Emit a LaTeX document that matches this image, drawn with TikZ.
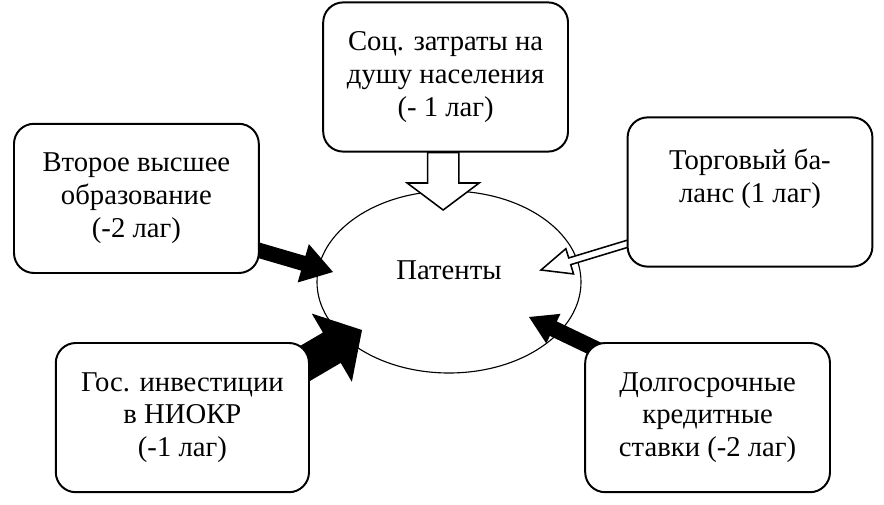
\documentclass[tikz,border=0pt]{standalone}
\usepackage{fontspec}
\setmainfont{Liberation Serif}
\usetikzlibrary{shapes.geometric,calc,backgrounds}

\tikzset{
    box/.style={draw, line width=1.4pt, fill=white, rounded corners=0.5cm, align=center,
        minimum width=6.12cm, minimum height=3.73cm, inner sep=0pt,
        font=\fontsize{20.4}{23.4}\selectfont},
    openarr/.style={draw, line width=1.1pt, fill=white, line join=miter},
    fullarr/.style={fill=black}
}

% block arrow: from, to, half shaft, half head, head length, style
\newcommand{\blockarr}[6]{%
    \coordinate (ba-c) at ($(#2)!#5!(#1)$);
    \path[#6] ($(#1)!#3!90:(#2)$) -- ($(ba-c)!#3!90:(#2)$) -- ($(ba-c)!#4!90:(#2)$) -- (#2)
        -- ($(ba-c)!#4!-90:(#2)$) -- ($(ba-c)!#3!-90:(#2)$) -- ($(#1)!#3!-90:(#2)$) -- cycle;
}

\begin{document}
\begin{tikzpicture}
    \useasboundingbox (0,0) rectangle (22.1,12.6);

    %%%%%%%%% Riquadri %%%%%%%%%
    \node[box] (soc) at (11.14,10.675) {Соц. затраты на\\душу населения\\(- 1 лаг)};
    \node[box] (vyssh) at (3.41,7.64) {Второе высшее\\образование\\(-2 лаг)};
    \node[box] (torg) at (18.75,7.8) {Торговый ба-\\ланс (1 лаг)\\\mbox{}};
    \node[box, minimum width=6.33cm] (niokr) at (4.56,2.16) {Гос. инвестиции\\в НИОКР\\(-1 лаг)};
    \node[box] (kred) at (17.69,2.16) {Долгосрочные\\кредитные\\ставки (-2 лаг)};

    \begin{pgfonlayer}{background}
        %%%%%%%%% Ellisse %%%%%%%%%
        \node[draw, ellipse, line width=0.8pt, minimum width=6.6cm, minimum height=4.55cm] (pat) at (11.225,5.55) {};
        \node[font=\fontsize{20.4}{23.4}\selectfont] (patlbl) at ([yshift=0.3cm]pat.center) {Патенты};

        %%%%%%%%% Frecce %%%%%%%%%
        \coordinate (tipS) at (11.08,7.35);
        \coordinate (tipT) at (13.525,5.85);
        \coordinate (tailT) at (15.9,6.57);
        \coordinate (tipV) at (8.325,5.8);
        \coordinate (tailV) at (6.0,6.48);
        \coordinate (tipN) at (9.05,4.35);
        \coordinate (tailN) at (7.415,3.39);
        \coordinate (tipK) at (13.225,4.675);
        \coordinate (tailK) at (15.125,3.765);

        \blockarr{soc.south -| tipS}{tipS}{0.39cm}{0.9cm}{0.675cm}{openarr}
        \blockarr{tailT}{tipT}{0.0875cm}{0.33cm}{0.75cm}{openarr}
        \blockarr{tailV}{tipV}{0.19cm}{0.5cm}{0.775cm}{fullarr}
        \blockarr{tailN}{tipN}{0.44cm}{0.99cm}{0.875cm}{fullarr}
        \blockarr{tailK}{tipK}{0.2cm}{0.41cm}{0.675cm}{fullarr}
    \end{pgfonlayer}
\end{tikzpicture}
\end{document}
